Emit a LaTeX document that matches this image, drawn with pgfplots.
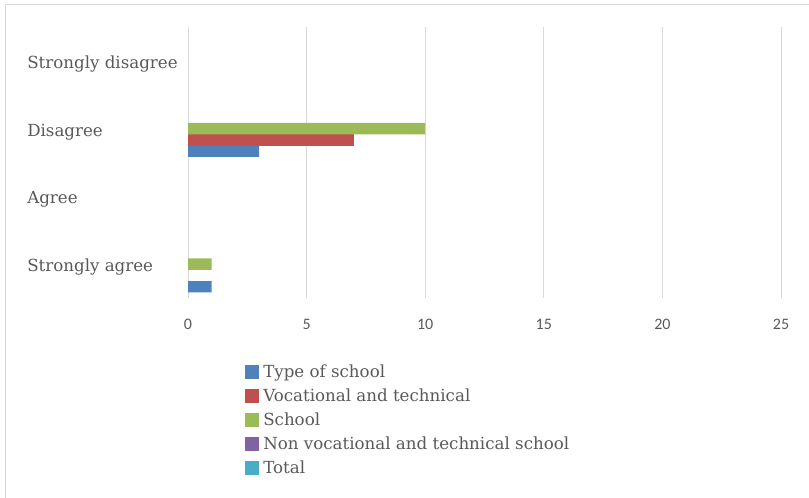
\documentclass[border=0pt]{standalone}
\usepackage{pgfplots}
\pgfplotsset{compat=1.18}
\usepackage{fontspec}
\setmainfont{DejaVu Serif}
\newfontfamily\numfont{Carlito}
\definecolor{txt}{HTML}{595959}
\definecolor{gridc}{HTML}{D9D9D9}
\definecolor{cA}{HTML}{4F81BD}
\definecolor{cB}{HTML}{C0504D}
\definecolor{cC}{HTML}{9BBB59}
\definecolor{cD}{HTML}{8064A2}
\definecolor{cE}{HTML}{4BACC6}
\pgfplotstableread{
cat typ voc sch non tot
0 1 nan 1 nan nan
1 nan nan nan nan nan
2 3 7 10 nan nan
3 nan nan nan nan nan
}\data
\begin{document}
\begin{tikzpicture}
\path[use as bounding box] (0pt,0pt) rectangle (606.75pt,373.5pt);
\draw[gridc,line width=0.75pt] (3.75pt,0pt) -- (3.75pt,369.75pt) -- (606.75pt,369.75pt);
\begin{axis}[
  at={(141pt,150pt)}, anchor=south west,
  scale only axis, width=444.75pt, height=203.25pt,
  xmin=0, xmax=25, ymin=-0.5, ymax=3.5,
  xtick={0,5,...,25},
  ytick={0,1,2,3},
  yticklabels={Strongly agree,Agree,Disagree,Strongly disagree},
  axis line style={draw=none},
  major tick length=0pt,
  unbounded coords=discard,
  xmajorgrids, grid style={gridc,line width=0.75pt},
  /pgf/number format/assume math mode=true,
  xticklabel style={font=\numfont\fontsize{12}{14}\selectfont, text=txt, anchor=base, yshift=-24pt},
  yticklabel style={font=\fontsize{12.5}{15}\selectfont, text=txt, anchor=west, inner sep=0pt, xshift=-120.75pt, yshift=-2.5pt},
  xbar, bar width=0.1667,
  legend style={at={(0.0961,-0.236)}, anchor=north west, draw=none, fill=none, inner sep=0pt,
    font=\fontsize{12.5}{15}\selectfont, text=txt, row sep=3pt, cells={anchor=west},
    nodes={inner xsep=3pt}},
  legend image code/.code={\fill[#1] (0pt,-5.25pt) rectangle (10.5pt,5.25pt);},
  every axis plot/.append style={draw=none},
]
\addplot[fill=cA, bar shift=-0.3333] table[x=typ,y=cat]{\data};
\addlegendentry{Type of school}
\addplot[fill=cB, bar shift=-0.1667] table[x=voc,y=cat]{\data};
\addlegendentry{Vocational and technical}
\addplot[fill=cC, bar shift=0] table[x=sch,y=cat]{\data};
\addlegendentry{School}
\addplot[fill=cD, bar shift=0.1667, forget plot] table[x=non,y=cat]{\data};
\addlegendimage{fill=cD, draw=none}
\addlegendentry{Non vocational and technical school}
\addplot[fill=cE, bar shift=0.3333, forget plot] table[x=tot,y=cat]{\data};
\addlegendimage{fill=cE, draw=none}
\addlegendentry{Total}
\end{axis}
\end{tikzpicture}
\end{document}
